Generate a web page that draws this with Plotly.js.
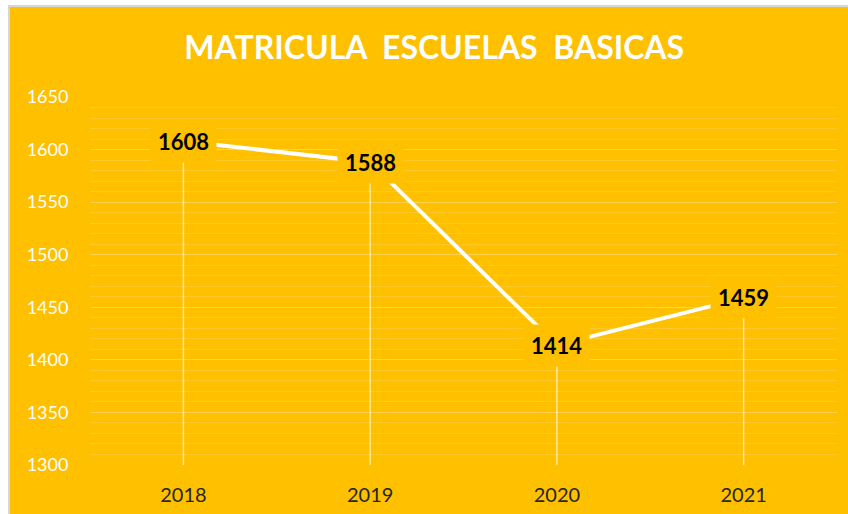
<!DOCTYPE html>
<html>
<head>
<meta charset="utf-8">
<script src="https://cdn.plot.ly/plotly-3.0.1.min.js"></script>
<style>
html,body{margin:0;padding:0;background:#ffffff;width:848px;height:514px;overflow:hidden;}
#frame{position:absolute;left:8px;top:5px;width:840px;height:509px;border-left:2px solid #d6d6d6;border-top:2px solid #d6d6d6;background:#FFC000;}
#chart{position:absolute;left:0;top:0;width:840px;height:509px;}
</style>
</head>
<body>
<div id="frame"><div id="chart"></div></div>
<script>
const years = ['2018', '2019', '2020', '2021'];
const matricula = [1608, 1588, 1414, 1459];
const yTicks = [1300, 1350, 1400, 1450, 1500, 1550, 1600, 1650];
const axisMin = 1300;
const axisMax = 1650;

const dropDepth = matricula.map(v => v - axisMin);

const trace = {
  x: years,
  y: matricula,
  type: 'scatter',
  mode: 'lines',
  line: {color: '#ffffff', width: 4},
  error_y: {
    type: 'data',
    symmetric: false,
    array: matricula.map(() => 0),
    arrayminus: dropDepth,
    color: 'rgba(255,255,255,0.6)',
    thickness: 1.5,
    width: 0
  },
  hoverinfo: 'skip',
  showlegend: false
};

// category axis: annotation x given as category index
const annotations = years.map((yr, i) => ({
  x: i,
  y: matricula[i],
  xref: 'x',
  yref: 'y',
  text: '<b>' + matricula[i] + '</b>',
  showarrow: false,
  font: {family: 'Lato, sans-serif', size: 22, color: '#000000'},
  bgcolor: '#FFC000',
  borderpad: 7,
  xanchor: 'center',
  yanchor: 'middle'
}));

const layout = {
  width: 840,
  height: 509,
  paper_bgcolor: '#FFC000',
  plot_bgcolor: '#FFC000',
  margin: {l: 80, r: 13, t: 90, b: 51},
  title: {
    text: '<b>MATRICULA  ESCUELAS  BASICAS</b>',
    font: {family: 'Lato, sans-serif', size: 32, color: '#ffffff'},
    x: 0.505,
    xanchor: 'center',
    y: 0.92,
    yanchor: 'middle'
  },
  xaxis: {
    type: 'category',
    categoryorder: 'array',
    categoryarray: years,
    range: [-0.5, years.length - 0.5],
    showgrid: false,
    zeroline: false,
    showline: false,
    ticks: 'outside',
    ticklen: 12,
    tickcolor: 'rgba(0,0,0,0)',
    tickfont: {family: 'Lato, sans-serif', size: 20, color: '#262626'}
  },
  yaxis: {
    range: [axisMin, axisMax],
    tickvals: yTicks,
    ticktext: yTicks.map(String),
    showgrid: true,
    gridcolor: 'rgba(255,255,255,0.18)',
    gridwidth: 1,
    minor: {dtick: 10, showgrid: true, gridcolor: 'rgba(255,255,255,0.16)', gridwidth: 1},
    zeroline: false,
    showline: false,
    ticks: 'outside',
    ticklen: 17,
    tickcolor: 'rgba(0,0,0,0)',
    tickfont: {family: 'Lato, sans-serif', size: 18, color: '#ffffff'}
  },
  annotations: annotations
};

Plotly.newPlot('chart', [trace], layout, {displayModeBar: false, staticPlot: true});
</script>
</body>
</html>
